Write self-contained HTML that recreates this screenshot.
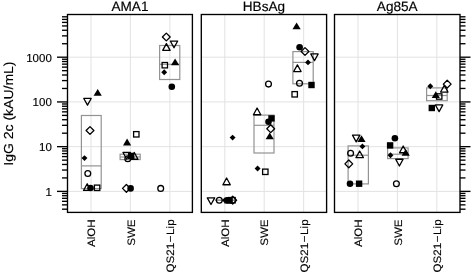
<!DOCTYPE html>
<html><head><meta charset="utf-8"><title>chart</title><style>html,body{margin:0;padding:0;background:#fff}body{width:472px;height:272px;overflow:hidden;font-family:"Liberation Sans",sans-serif}</style></head><body>
<svg width="472" height="272" viewBox="0 0 472 272" style="display:block;will-change:transform;text-rendering:geometricPrecision">
<rect width="472" height="272" fill="#fff"/>
<line x1="67.5" x2="192.4" y1="191.39" y2="191.39" stroke="#e2e2e2" stroke-width="1"/>
<line x1="67.5" x2="192.4" y1="146.66" y2="146.66" stroke="#e2e2e2" stroke-width="1"/>
<line x1="67.5" x2="192.4" y1="101.93" y2="101.93" stroke="#e2e2e2" stroke-width="1"/>
<line x1="67.5" x2="192.4" y1="57.20" y2="57.20" stroke="#e2e2e2" stroke-width="1"/>
<line x1="91.00" x2="91.00" y1="14.5" y2="212.4" stroke="#e2e2e2" stroke-width="1"/>
<line x1="130.40" x2="130.40" y1="14.5" y2="212.4" stroke="#e2e2e2" stroke-width="1"/>
<line x1="169.85" x2="169.85" y1="14.5" y2="212.4" stroke="#e2e2e2" stroke-width="1"/>
<line x1="201.3" x2="326.6" y1="191.39" y2="191.39" stroke="#e2e2e2" stroke-width="1"/>
<line x1="201.3" x2="326.6" y1="146.66" y2="146.66" stroke="#e2e2e2" stroke-width="1"/>
<line x1="201.3" x2="326.6" y1="101.93" y2="101.93" stroke="#e2e2e2" stroke-width="1"/>
<line x1="201.3" x2="326.6" y1="57.20" y2="57.20" stroke="#e2e2e2" stroke-width="1"/>
<line x1="224.80" x2="224.80" y1="14.5" y2="212.4" stroke="#e2e2e2" stroke-width="1"/>
<line x1="264.20" x2="264.20" y1="14.5" y2="212.4" stroke="#e2e2e2" stroke-width="1"/>
<line x1="303.65" x2="303.65" y1="14.5" y2="212.4" stroke="#e2e2e2" stroke-width="1"/>
<line x1="334.5" x2="460.0" y1="191.39" y2="191.39" stroke="#e2e2e2" stroke-width="1"/>
<line x1="334.5" x2="460.0" y1="146.66" y2="146.66" stroke="#e2e2e2" stroke-width="1"/>
<line x1="334.5" x2="460.0" y1="101.93" y2="101.93" stroke="#e2e2e2" stroke-width="1"/>
<line x1="334.5" x2="460.0" y1="57.20" y2="57.20" stroke="#e2e2e2" stroke-width="1"/>
<line x1="358.00" x2="358.00" y1="14.5" y2="212.4" stroke="#e2e2e2" stroke-width="1"/>
<line x1="397.40" x2="397.40" y1="14.5" y2="212.4" stroke="#e2e2e2" stroke-width="1"/>
<line x1="436.85" x2="436.85" y1="14.5" y2="212.4" stroke="#e2e2e2" stroke-width="1"/>
<rect x="81.4" y="115.5" width="19.80" height="73.10" fill="none" stroke="#939393" stroke-width="1.2"/>
<line x1="81.4" x2="101.2" y1="165.9" y2="165.9" stroke="#939393" stroke-width="1.2"/>
<rect x="120.1" y="154.2" width="20.10" height="5.40" fill="none" stroke="#939393" stroke-width="1.2"/>
<line x1="120.1" x2="140.2" y1="157.0" y2="157.0" stroke="#939393" stroke-width="1.2"/>
<rect x="159.6" y="45.5" width="20.20" height="34.00" fill="none" stroke="#939393" stroke-width="1.2"/>
<line x1="159.6" x2="179.8" y1="64.3" y2="64.3" stroke="#939393" stroke-width="1.2"/>
<line x1="214.9" x2="234.7" y1="200.2" y2="200.2" stroke="#939393" stroke-width="1.6"/>
<rect x="254.0" y="115.1" width="20.00" height="37.90" fill="none" stroke="#939393" stroke-width="1.2"/>
<line x1="254.0" x2="274.0" y1="125.3" y2="125.3" stroke="#939393" stroke-width="1.2"/>
<rect x="292.9" y="51.6" width="20.30" height="32.20" fill="none" stroke="#939393" stroke-width="1.2"/>
<line x1="292.9" x2="313.2" y1="62.4" y2="62.4" stroke="#939393" stroke-width="1.2"/>
<rect x="348.1" y="145.9" width="20.30" height="38.00" fill="none" stroke="#939393" stroke-width="1.2"/>
<line x1="348.1" x2="368.4" y1="155.2" y2="155.2" stroke="#939393" stroke-width="1.2"/>
<rect x="387.6" y="147.9" width="20.50" height="10.70" fill="none" stroke="#939393" stroke-width="1.2"/>
<line x1="387.6" x2="408.1" y1="154.2" y2="154.2" stroke="#939393" stroke-width="1.2"/>
<rect x="426.6" y="87.9" width="20.60" height="12.80" fill="none" stroke="#939393" stroke-width="1.2"/>
<line x1="426.6" x2="447.2" y1="95.5" y2="95.5" stroke="#939393" stroke-width="1.2"/>
<path d="M97.7 89.00L101.80 95.80L93.60 95.80Z" fill="#000"/>
<path d="M87.5 105.15L91.20 98.45L83.80 98.45Z" fill="none" stroke="#000" stroke-width="1.3" stroke-linejoin="round"/>
<path d="M86.10 130.5L90.0 126.60L93.90 130.5L90.0 134.40Z" fill="none" stroke="#000" stroke-width="1.3" stroke-linejoin="round"/>
<path d="M81.55 158.1L84.5 155.15L87.45 158.1L84.5 161.05Z" fill="#000"/>
<circle cx="87.8" cy="173.5" r="2.9" fill="none" stroke="#000" stroke-width="1.3"/>
<path d="M87.2 183.75L90.90 190.45L83.50 190.45Z" fill="none" stroke="#000" stroke-width="1.3" stroke-linejoin="round"/>
<circle cx="90.5" cy="188.0" r="3.3" fill="#000"/>
<rect x="94.40" y="185.10" width="5.4" height="5.4" fill="none" stroke="#000" stroke-width="1.3"/>
<rect x="133.60" y="131.60" width="5.4" height="5.4" fill="none" stroke="#000" stroke-width="1.3"/>
<path d="M127.1 138.60L131.20 145.40L123.00 145.40Z" fill="#000"/>
<path d="M126.7 159.15L130.40 152.45L123.00 152.45Z" fill="none" stroke="#000" stroke-width="1.3" stroke-linejoin="round"/>
<rect x="128.00" y="152.70" width="6.4" height="6.4" fill="#000"/>
<path d="M127.55 156.0L130.5 153.05L133.45 156.0L130.5 158.95Z" fill="#000"/>
<path d="M134.3 152.55L138.00 159.25L130.60 159.25Z" fill="none" stroke="#000" stroke-width="1.3" stroke-linejoin="round"/>
<circle cx="127.8" cy="158.8" r="2.9" fill="none" stroke="#000" stroke-width="1.3"/>
<path d="M122.50 188.4L126.4 184.50L130.30 188.4L126.4 192.30Z" fill="none" stroke="#000" stroke-width="1.3" stroke-linejoin="round"/>
<circle cx="130.6" cy="188.4" r="3.3" fill="#000"/>
<path d="M162.40 37.0L166.3 33.10L170.20 37.0L166.3 40.90Z" fill="none" stroke="#000" stroke-width="1.3" stroke-linejoin="round"/>
<path d="M174.0 47.75L177.70 41.05L170.30 41.05Z" fill="none" stroke="#000" stroke-width="1.3" stroke-linejoin="round"/>
<path d="M166.4 43.65L170.10 50.35L162.70 50.35Z" fill="none" stroke="#000" stroke-width="1.3" stroke-linejoin="round"/>
<path d="M175.1 58.40L179.20 65.20L171.00 65.20Z" fill="#000"/>
<rect x="162.10" y="62.50" width="5.4" height="5.4" fill="none" stroke="#000" stroke-width="1.3"/>
<path d="M161.25 72.2L164.2 69.25L167.15 72.2L164.2 75.15Z" fill="#000"/>
<circle cx="171.8" cy="86.7" r="3.3" fill="#000"/>
<circle cx="160.7" cy="188.4" r="2.9" fill="none" stroke="#000" stroke-width="1.3"/>
<path d="M229.65 137.6L232.6 134.65L235.55 137.6L232.6 140.55Z" fill="#000"/>
<path d="M226.6 178.05L230.30 184.75L222.90 184.75Z" fill="none" stroke="#000" stroke-width="1.3" stroke-linejoin="round"/>
<path d="M211.0 204.55L214.70 197.85L207.30 197.85Z" fill="none" stroke="#000" stroke-width="1.3" stroke-linejoin="round"/>
<circle cx="219.3" cy="200.2" r="2.9" fill="none" stroke="#000" stroke-width="1.3"/>
<path d="M222.05 200.2L225.0 197.25L227.95 200.2L225.0 203.15Z" fill="#000"/>
<circle cx="227.4" cy="200.2" r="3.3" fill="#000"/>
<path d="M228.3 196.60L232.40 203.40L224.20 203.40Z" fill="#000"/>
<rect x="226.40" y="197.00" width="6.4" height="6.4" fill="#000"/>
<rect x="229.80" y="197.50" width="5.4" height="5.4" fill="none" stroke="#000" stroke-width="1.3"/>
<path d="M228.80 200.2L232.7 196.30L236.60 200.2L232.7 204.10Z" fill="none" stroke="#000" stroke-width="1.3" stroke-linejoin="round"/>
<circle cx="268.5" cy="84.1" r="2.9" fill="none" stroke="#000" stroke-width="1.3"/>
<path d="M257.1 108.05L260.80 114.75L253.40 114.75Z" fill="none" stroke="#000" stroke-width="1.3" stroke-linejoin="round"/>
<rect x="268.30" y="115.20" width="6.4" height="6.4" fill="#000"/>
<circle cx="268.5" cy="121.8" r="3.3" fill="#000"/>
<path d="M266.80 128.7L270.7 124.80L274.60 128.7L270.7 132.60Z" fill="none" stroke="#000" stroke-width="1.3" stroke-linejoin="round"/>
<path d="M269.7 132.50L273.80 139.30L265.60 139.30Z" fill="#000"/>
<path d="M254.65 168.5L257.6 165.55L260.55 168.5L257.6 171.45Z" fill="#000"/>
<rect x="262.60" y="169.10" width="5.4" height="5.4" fill="none" stroke="#000" stroke-width="1.3"/>
<path d="M296.6 22.40L300.70 29.20L292.50 29.20Z" fill="#000"/>
<circle cx="299.6" cy="47.2" r="3.3" fill="#000"/>
<path d="M301.10 51.5L305.0 47.60L308.90 51.5L305.0 55.40Z" fill="none" stroke="#000" stroke-width="1.3" stroke-linejoin="round"/>
<path d="M314.5 60.65L318.20 53.95L310.80 53.95Z" fill="none" stroke="#000" stroke-width="1.3" stroke-linejoin="round"/>
<path d="M305.05 62.4L308.0 59.45L310.95 62.4L308.0 65.35Z" fill="#000"/>
<path d="M297.4 64.85L301.10 71.55L293.70 71.55Z" fill="none" stroke="#000" stroke-width="1.3" stroke-linejoin="round"/>
<circle cx="299.5" cy="83.3" r="2.9" fill="none" stroke="#000" stroke-width="1.3"/>
<rect x="308.30" y="81.80" width="6.4" height="6.4" fill="#000"/>
<rect x="292.00" y="91.60" width="5.4" height="5.4" fill="none" stroke="#000" stroke-width="1.3"/>
<path d="M356.2 141.85L359.90 135.15L352.50 135.15Z" fill="none" stroke="#000" stroke-width="1.3" stroke-linejoin="round"/>
<path d="M361.5 135.30L365.60 142.10L357.40 142.10Z" fill="#000"/>
<path d="M359.45 146.4L362.4 143.45L365.35 146.4L362.4 149.35Z" fill="#000"/>
<circle cx="350.6" cy="153.3" r="2.9" fill="none" stroke="#000" stroke-width="1.3"/>
<path d="M359.7 150.95L363.40 157.65L356.00 157.65Z" fill="none" stroke="#000" stroke-width="1.3" stroke-linejoin="round"/>
<path d="M344.90 163.9L348.8 160.00L352.70 163.9L348.8 167.80Z" fill="none" stroke="#000" stroke-width="1.3" stroke-linejoin="round"/>
<circle cx="350.0" cy="183.7" r="3.3" fill="#000"/>
<rect x="355.90" y="180.50" width="6.4" height="6.4" fill="#000"/>
<circle cx="394.9" cy="138.3" r="3.3" fill="#000"/>
<rect x="386.90" y="142.20" width="6.4" height="6.4" fill="#000"/>
<path d="M403.2 146.05L406.90 152.75L399.50 152.75Z" fill="none" stroke="#000" stroke-width="1.3" stroke-linejoin="round"/>
<path d="M405.7 148.90L409.80 155.70L401.60 155.70Z" fill="#000"/>
<path d="M387.55 155.2L390.5 152.25L393.45 155.2L390.5 158.15Z" fill="#000"/>
<path d="M399.4 165.95L403.10 159.25L395.70 159.25Z" fill="none" stroke="#000" stroke-width="1.3" stroke-linejoin="round"/>
<circle cx="396.4" cy="183.7" r="2.9" fill="none" stroke="#000" stroke-width="1.3"/>
<path d="M427.35 86.3L430.3 83.35L433.25 86.3L430.3 89.25Z" fill="#000"/>
<path d="M443.30 84.1L447.2 80.20L451.10 84.1L447.2 88.00Z" fill="none" stroke="#000" stroke-width="1.3" stroke-linejoin="round"/>
<path d="M444.3 85.35L448.00 92.05L440.60 92.05Z" fill="none" stroke="#000" stroke-width="1.3" stroke-linejoin="round"/>
<path d="M435.8 91.30L439.90 98.10L431.70 98.10Z" fill="#000"/>
<rect x="436.50" y="93.80" width="5.4" height="5.4" fill="none" stroke="#000" stroke-width="1.3"/>
<rect x="428.60" y="104.80" width="6.4" height="6.4" fill="#000"/>
<path d="M439.1 111.65L442.80 104.95L435.40 104.95Z" fill="none" stroke="#000" stroke-width="1.3" stroke-linejoin="round"/>
<rect x="67.5" y="14.5" width="124.90" height="197.90" fill="none" stroke="#000" stroke-width="1.35"/>
<rect x="201.3" y="14.5" width="125.30" height="197.90" fill="none" stroke="#000" stroke-width="1.35"/>
<rect x="334.5" y="14.5" width="125.50" height="197.90" fill="none" stroke="#000" stroke-width="1.35"/>
<line x1="67.5" x2="62.0" y1="209.19" y2="209.19" stroke="#000" stroke-width="1.35"/>
<line x1="67.5" x2="62.0" y1="204.86" y2="204.86" stroke="#000" stroke-width="1.35"/>
<line x1="67.5" x2="62.0" y1="201.31" y2="201.31" stroke="#000" stroke-width="1.35"/>
<line x1="67.5" x2="62.0" y1="198.32" y2="198.32" stroke="#000" stroke-width="1.35"/>
<line x1="67.5" x2="62.0" y1="195.72" y2="195.72" stroke="#000" stroke-width="1.35"/>
<line x1="67.5" x2="62.0" y1="193.44" y2="193.44" stroke="#000" stroke-width="1.35"/>
<line x1="67.5" x2="57.0" y1="191.39" y2="191.39" stroke="#000" stroke-width="1.35"/>
<line x1="67.5" x2="62.0" y1="177.92" y2="177.92" stroke="#000" stroke-width="1.35"/>
<line x1="67.5" x2="62.0" y1="170.05" y2="170.05" stroke="#000" stroke-width="1.35"/>
<line x1="67.5" x2="62.0" y1="164.46" y2="164.46" stroke="#000" stroke-width="1.35"/>
<line x1="67.5" x2="62.0" y1="160.13" y2="160.13" stroke="#000" stroke-width="1.35"/>
<line x1="67.5" x2="62.0" y1="156.58" y2="156.58" stroke="#000" stroke-width="1.35"/>
<line x1="67.5" x2="62.0" y1="153.59" y2="153.59" stroke="#000" stroke-width="1.35"/>
<line x1="67.5" x2="62.0" y1="150.99" y2="150.99" stroke="#000" stroke-width="1.35"/>
<line x1="67.5" x2="62.0" y1="148.71" y2="148.71" stroke="#000" stroke-width="1.35"/>
<line x1="67.5" x2="57.0" y1="146.66" y2="146.66" stroke="#000" stroke-width="1.35"/>
<line x1="67.5" x2="62.0" y1="133.19" y2="133.19" stroke="#000" stroke-width="1.35"/>
<line x1="67.5" x2="62.0" y1="125.32" y2="125.32" stroke="#000" stroke-width="1.35"/>
<line x1="67.5" x2="62.0" y1="119.73" y2="119.73" stroke="#000" stroke-width="1.35"/>
<line x1="67.5" x2="62.0" y1="115.40" y2="115.40" stroke="#000" stroke-width="1.35"/>
<line x1="67.5" x2="62.0" y1="111.85" y2="111.85" stroke="#000" stroke-width="1.35"/>
<line x1="67.5" x2="62.0" y1="108.86" y2="108.86" stroke="#000" stroke-width="1.35"/>
<line x1="67.5" x2="62.0" y1="106.26" y2="106.26" stroke="#000" stroke-width="1.35"/>
<line x1="67.5" x2="62.0" y1="103.98" y2="103.98" stroke="#000" stroke-width="1.35"/>
<line x1="67.5" x2="57.0" y1="101.93" y2="101.93" stroke="#000" stroke-width="1.35"/>
<line x1="67.5" x2="62.0" y1="88.46" y2="88.46" stroke="#000" stroke-width="1.35"/>
<line x1="67.5" x2="62.0" y1="80.59" y2="80.59" stroke="#000" stroke-width="1.35"/>
<line x1="67.5" x2="62.0" y1="75.00" y2="75.00" stroke="#000" stroke-width="1.35"/>
<line x1="67.5" x2="62.0" y1="70.67" y2="70.67" stroke="#000" stroke-width="1.35"/>
<line x1="67.5" x2="62.0" y1="67.12" y2="67.12" stroke="#000" stroke-width="1.35"/>
<line x1="67.5" x2="62.0" y1="64.13" y2="64.13" stroke="#000" stroke-width="1.35"/>
<line x1="67.5" x2="62.0" y1="61.53" y2="61.53" stroke="#000" stroke-width="1.35"/>
<line x1="67.5" x2="62.0" y1="59.25" y2="59.25" stroke="#000" stroke-width="1.35"/>
<line x1="67.5" x2="57.0" y1="57.20" y2="57.20" stroke="#000" stroke-width="1.35"/>
<line x1="67.5" x2="62.0" y1="43.73" y2="43.73" stroke="#000" stroke-width="1.35"/>
<line x1="67.5" x2="62.0" y1="35.86" y2="35.86" stroke="#000" stroke-width="1.35"/>
<line x1="67.5" x2="62.0" y1="30.27" y2="30.27" stroke="#000" stroke-width="1.35"/>
<line x1="67.5" x2="62.0" y1="25.94" y2="25.94" stroke="#000" stroke-width="1.35"/>
<line x1="67.5" x2="62.0" y1="22.39" y2="22.39" stroke="#000" stroke-width="1.35"/>
<line x1="67.5" x2="62.0" y1="19.40" y2="19.40" stroke="#000" stroke-width="1.35"/>
<line x1="67.5" x2="62.0" y1="16.80" y2="16.80" stroke="#000" stroke-width="1.35"/>
<line x1="460.0" x2="465.5" y1="209.19" y2="209.19" stroke="#000" stroke-width="1.35"/>
<line x1="460.0" x2="465.5" y1="204.86" y2="204.86" stroke="#000" stroke-width="1.35"/>
<line x1="460.0" x2="465.5" y1="201.31" y2="201.31" stroke="#000" stroke-width="1.35"/>
<line x1="460.0" x2="465.5" y1="198.32" y2="198.32" stroke="#000" stroke-width="1.35"/>
<line x1="460.0" x2="465.5" y1="195.72" y2="195.72" stroke="#000" stroke-width="1.35"/>
<line x1="460.0" x2="465.5" y1="193.44" y2="193.44" stroke="#000" stroke-width="1.35"/>
<line x1="460.0" x2="470.5" y1="191.39" y2="191.39" stroke="#000" stroke-width="1.35"/>
<line x1="460.0" x2="465.5" y1="177.92" y2="177.92" stroke="#000" stroke-width="1.35"/>
<line x1="460.0" x2="465.5" y1="170.05" y2="170.05" stroke="#000" stroke-width="1.35"/>
<line x1="460.0" x2="465.5" y1="164.46" y2="164.46" stroke="#000" stroke-width="1.35"/>
<line x1="460.0" x2="465.5" y1="160.13" y2="160.13" stroke="#000" stroke-width="1.35"/>
<line x1="460.0" x2="465.5" y1="156.58" y2="156.58" stroke="#000" stroke-width="1.35"/>
<line x1="460.0" x2="465.5" y1="153.59" y2="153.59" stroke="#000" stroke-width="1.35"/>
<line x1="460.0" x2="465.5" y1="150.99" y2="150.99" stroke="#000" stroke-width="1.35"/>
<line x1="460.0" x2="465.5" y1="148.71" y2="148.71" stroke="#000" stroke-width="1.35"/>
<line x1="460.0" x2="470.5" y1="146.66" y2="146.66" stroke="#000" stroke-width="1.35"/>
<line x1="460.0" x2="465.5" y1="133.19" y2="133.19" stroke="#000" stroke-width="1.35"/>
<line x1="460.0" x2="465.5" y1="125.32" y2="125.32" stroke="#000" stroke-width="1.35"/>
<line x1="460.0" x2="465.5" y1="119.73" y2="119.73" stroke="#000" stroke-width="1.35"/>
<line x1="460.0" x2="465.5" y1="115.40" y2="115.40" stroke="#000" stroke-width="1.35"/>
<line x1="460.0" x2="465.5" y1="111.85" y2="111.85" stroke="#000" stroke-width="1.35"/>
<line x1="460.0" x2="465.5" y1="108.86" y2="108.86" stroke="#000" stroke-width="1.35"/>
<line x1="460.0" x2="465.5" y1="106.26" y2="106.26" stroke="#000" stroke-width="1.35"/>
<line x1="460.0" x2="465.5" y1="103.98" y2="103.98" stroke="#000" stroke-width="1.35"/>
<line x1="460.0" x2="470.5" y1="101.93" y2="101.93" stroke="#000" stroke-width="1.35"/>
<line x1="460.0" x2="465.5" y1="88.46" y2="88.46" stroke="#000" stroke-width="1.35"/>
<line x1="460.0" x2="465.5" y1="80.59" y2="80.59" stroke="#000" stroke-width="1.35"/>
<line x1="460.0" x2="465.5" y1="75.00" y2="75.00" stroke="#000" stroke-width="1.35"/>
<line x1="460.0" x2="465.5" y1="70.67" y2="70.67" stroke="#000" stroke-width="1.35"/>
<line x1="460.0" x2="465.5" y1="67.12" y2="67.12" stroke="#000" stroke-width="1.35"/>
<line x1="460.0" x2="465.5" y1="64.13" y2="64.13" stroke="#000" stroke-width="1.35"/>
<line x1="460.0" x2="465.5" y1="61.53" y2="61.53" stroke="#000" stroke-width="1.35"/>
<line x1="460.0" x2="465.5" y1="59.25" y2="59.25" stroke="#000" stroke-width="1.35"/>
<line x1="460.0" x2="470.5" y1="57.20" y2="57.20" stroke="#000" stroke-width="1.35"/>
<line x1="460.0" x2="465.5" y1="43.73" y2="43.73" stroke="#000" stroke-width="1.35"/>
<line x1="460.0" x2="465.5" y1="35.86" y2="35.86" stroke="#000" stroke-width="1.35"/>
<line x1="460.0" x2="465.5" y1="30.27" y2="30.27" stroke="#000" stroke-width="1.35"/>
<line x1="460.0" x2="465.5" y1="25.94" y2="25.94" stroke="#000" stroke-width="1.35"/>
<line x1="460.0" x2="465.5" y1="22.39" y2="22.39" stroke="#000" stroke-width="1.35"/>
<line x1="460.0" x2="465.5" y1="19.40" y2="19.40" stroke="#000" stroke-width="1.35"/>
<line x1="460.0" x2="465.5" y1="16.80" y2="16.80" stroke="#000" stroke-width="1.35"/>
<text x="51.8" y="195.89" text-anchor="end" font-size="11.5" font-family="Liberation Sans, sans-serif" fill="#000" stroke="#000" stroke-width="0.15">1</text>
<text x="51.8" y="151.16" text-anchor="end" font-size="11.5" font-family="Liberation Sans, sans-serif" fill="#000" stroke="#000" stroke-width="0.15">10</text>
<text x="51.8" y="106.43" text-anchor="end" font-size="11.5" font-family="Liberation Sans, sans-serif" fill="#000" stroke="#000" stroke-width="0.15">100</text>
<text x="51.8" y="61.70" text-anchor="end" font-size="11.5" font-family="Liberation Sans, sans-serif" fill="#000" stroke="#000" stroke-width="0.15">1000</text>
<text x="129.95" y="11.0" text-anchor="middle" font-size="13.6" font-family="Liberation Sans, sans-serif" fill="#000" stroke="#000" stroke-width="0.15">AMA1</text>
<text x="263.95" y="11.0" text-anchor="middle" font-size="13.6" font-family="Liberation Sans, sans-serif" fill="#000" stroke="#000" stroke-width="0.15">HBsAg</text>
<text x="397.25" y="11.0" text-anchor="middle" font-size="13.6" font-family="Liberation Sans, sans-serif" fill="#000" stroke="#000" stroke-width="0.15">Ag85A</text>
<text transform="translate(13.0,113.6) scale(0.93,1) rotate(-90)" text-anchor="middle" font-size="14" font-family="Liberation Sans, sans-serif" fill="#000" stroke="#000" stroke-width="0.15">IgG 2c (kAU/mL)</text>
<text transform="translate(95.10,219.4) scale(0.93,1) rotate(-90)" text-anchor="end" font-size="11.6" font-family="Liberation Sans, sans-serif" fill="#000" stroke="#000" stroke-width="0.15">AlOH</text>
<text transform="translate(134.50,219.4) scale(0.93,1) rotate(-90)" text-anchor="end" font-size="11.6" font-family="Liberation Sans, sans-serif" fill="#000" stroke="#000" stroke-width="0.15">SWE</text>
<text transform="translate(173.95,219.4) scale(0.93,1) rotate(-90)" text-anchor="end" font-size="11.6" font-family="Liberation Sans, sans-serif" fill="#000" stroke="#000" stroke-width="0.15">QS21<tspan dx="0.6">−</tspan><tspan dx="0.6">Lip</tspan></text>
<text transform="translate(228.90,219.4) scale(0.93,1) rotate(-90)" text-anchor="end" font-size="11.6" font-family="Liberation Sans, sans-serif" fill="#000" stroke="#000" stroke-width="0.15">AlOH</text>
<text transform="translate(268.30,219.4) scale(0.93,1) rotate(-90)" text-anchor="end" font-size="11.6" font-family="Liberation Sans, sans-serif" fill="#000" stroke="#000" stroke-width="0.15">SWE</text>
<text transform="translate(307.75,219.4) scale(0.93,1) rotate(-90)" text-anchor="end" font-size="11.6" font-family="Liberation Sans, sans-serif" fill="#000" stroke="#000" stroke-width="0.15">QS21<tspan dx="0.6">−</tspan><tspan dx="0.6">Lip</tspan></text>
<text transform="translate(362.10,219.4) scale(0.93,1) rotate(-90)" text-anchor="end" font-size="11.6" font-family="Liberation Sans, sans-serif" fill="#000" stroke="#000" stroke-width="0.15">AlOH</text>
<text transform="translate(401.50,219.4) scale(0.93,1) rotate(-90)" text-anchor="end" font-size="11.6" font-family="Liberation Sans, sans-serif" fill="#000" stroke="#000" stroke-width="0.15">SWE</text>
<text transform="translate(440.95,219.4) scale(0.93,1) rotate(-90)" text-anchor="end" font-size="11.6" font-family="Liberation Sans, sans-serif" fill="#000" stroke="#000" stroke-width="0.15">QS21<tspan dx="0.6">−</tspan><tspan dx="0.6">Lip</tspan></text>
</svg>
</body></html>
